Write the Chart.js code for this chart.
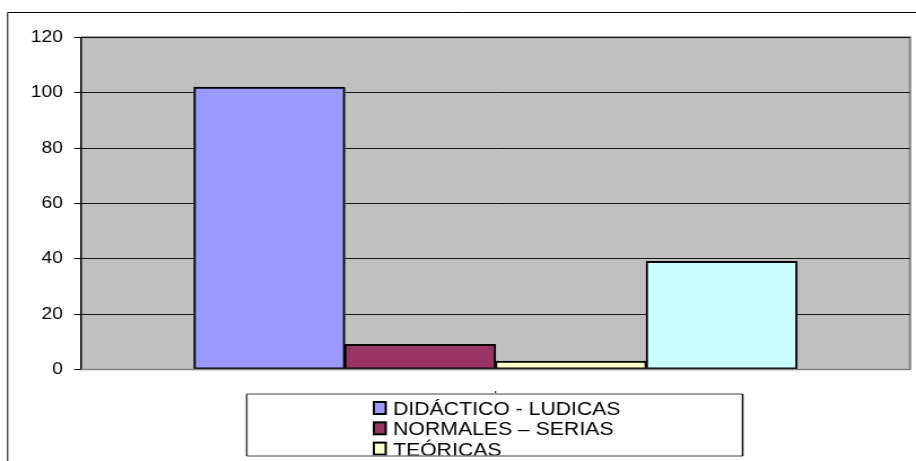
<!DOCTYPE html>
<html>
<head>
<meta charset="utf-8">
<script src="https://cdn.jsdelivr.net/npm/chart.js@4"></script>
<style>
  html, body { margin: 0; padding: 0; background: #fff; overflow: hidden; }
  #wrap { width: 916px; height: 461px; overflow: hidden; }
  /* the chart is drawn on a narrower canvas and widened to the page */
  #c { display: block; transform: scaleX(1.1295); transform-origin: 0 0; }
</style>
</head>
<body>
<div id="wrap"><canvas id="c" width="811" height="461"></canvas></div>
<script>
// Series (one category, four grouped bars)
const categories = [''];
const seriesNames = ['DIDÁCTICO - LUDICAS', 'NORMALES – SERIAS', 'TEÓRICAS', 'PRÁCTICAS'];
const seriesValues = [102, 9, 3, 39];
const seriesColors = ['#9999FF', '#993366', '#FFFFCC', '#CCFFFF'];
const yTicks = [0, 20, 40, 60, 80, 100, 120];

const FONT = "'Liberation Sans', Arial, sans-serif";

// White page, outer frame and grey plot background
const backdrop = {
  id: 'backdrop',
  beforeDraw(chart) {
    const { ctx, chartArea: a } = chart;
    ctx.save();
    ctx.fillStyle = '#fff';
    ctx.fillRect(0, 0, chart.width, chart.height);
    ctx.strokeStyle = '#000';
    ctx.lineWidth = 1;
    ctx.beginPath();
    ctx.moveTo(6.8, 470);
    ctx.lineTo(6.8, 12.5);
    ctx.lineTo(830, 12.5);
    ctx.stroke();
    ctx.fillStyle = '#C0C0C0';
    ctx.fillRect(a.left, a.top, a.right - a.left, a.bottom - a.top);
    // plot frame: grey top/right edges
    ctx.strokeStyle = '#808080';
    ctx.lineWidth = 2;
    ctx.beginPath();
    ctx.moveTo(a.left, a.top);
    ctx.lineTo(a.right, a.top);
    ctx.lineTo(a.right, a.bottom);
    ctx.stroke();
    ctx.restore();
  },
  afterDatasetsDraw(chart) {
    const { ctx, chartArea: a } = chart;
    ctx.save();
    ctx.strokeStyle = '#808080';
    ctx.lineWidth = 1.5;
    ctx.beginPath();
    ctx.moveTo(a.left, a.bottom);
    ctx.lineTo(a.right, a.bottom);
    ctx.stroke();
    // small category tick under the axis
    ctx.strokeStyle = '#000';
    ctx.lineWidth = 1;
    const cx = chart.scales.x.getPixelForValue(0);
    ctx.beginPath();
    ctx.moveTo(cx, 391);
    ctx.lineTo(cx, 393);
    ctx.stroke();
    ctx.restore();
  }
};

// Boxed legend below the plot, entries stacked in one column
const boxLegend = {
  id: 'boxLegend',
  afterDraw(chart) {
    const { ctx } = chart;
    const L = 218.4, R = 657.5, T = 394, B = 456;
    ctx.save();
    ctx.fillStyle = '#fff';
    ctx.fillRect(L, T, R - L, B - T);
    ctx.beginPath();
    ctx.rect(L, T, R - L, B - T);
    ctx.clip();
    ctx.font = '18.8px ' + FONT;
    ctx.textBaseline = 'alphabetic';
    ctx.textAlign = 'left';
    chart.data.datasets.forEach((ds, i) => {
      const base = 415 + i * 20.3;
      ctx.fillStyle = ds.backgroundColor;
      ctx.fillRect(331, base - 13, 10.5, 12);
      ctx.strokeStyle = '#000';
      ctx.lineWidth = 2;
      ctx.strokeRect(331, base - 13, 10.5, 12);
      ctx.fillStyle = '#000';
      ctx.fillText(ds.label, 348, base);
    });
    ctx.restore();
    ctx.save();
    ctx.lineWidth = 1.5;
    ctx.strokeStyle = '#808080';
    ctx.beginPath();
    ctx.moveTo(L, T); ctx.lineTo(R, T);
    ctx.moveTo(L, B); ctx.lineTo(R, B);
    ctx.stroke();
    ctx.strokeStyle = '#404040';
    ctx.beginPath();
    ctx.moveTo(L, T); ctx.lineTo(L, B);
    ctx.stroke();
    ctx.strokeStyle = '#000';
    ctx.beginPath();
    ctx.moveTo(R, T); ctx.lineTo(R, B);
    ctx.stroke();
    ctx.restore();
  }
};

new Chart(document.getElementById('c'), {
  type: 'bar',
  data: {
    labels: categories,
    datasets: seriesNames.map((name, i) => ({
      label: name,
      data: [seriesValues[i]],
      backgroundColor: seriesColors[i],
      borderColor: '#000',
      borderWidth: 2,
      borderSkipped: false,
      inflateAmount: 0.5,
      barPercentage: 1,
      categoryPercentage: 0.7274
    }))
  },
  options: {
    responsive: false,
    animation: false,
    devicePixelRatio: 1,
    layout: { padding: { left: 0, right: 5.3, top: 37.3, bottom: 91.5 } },
    plugins: { legend: { display: false }, tooltip: { enabled: false } },
    scales: {
      x: { display: false, offset: true },
      y: {
        min: 0,
        max: 120,
        afterFit(scale) { scale.width = 71.7; },
        afterBuildTicks(scale) { scale.ticks = yTicks.map(v => ({ value: v })); },
        ticks: { color: '#000', padding: 10, font: { family: FONT, size: 17 } },
        grid: { color: '#1a1a1a', lineWidth: 1, tickLength: 6, tickColor: '#000' },
        border: { display: true, color: '#000', width: 1.5 }
      }
    }
  },
  plugins: [backdrop, boxLegend]
});
</script>
</body>
</html>
